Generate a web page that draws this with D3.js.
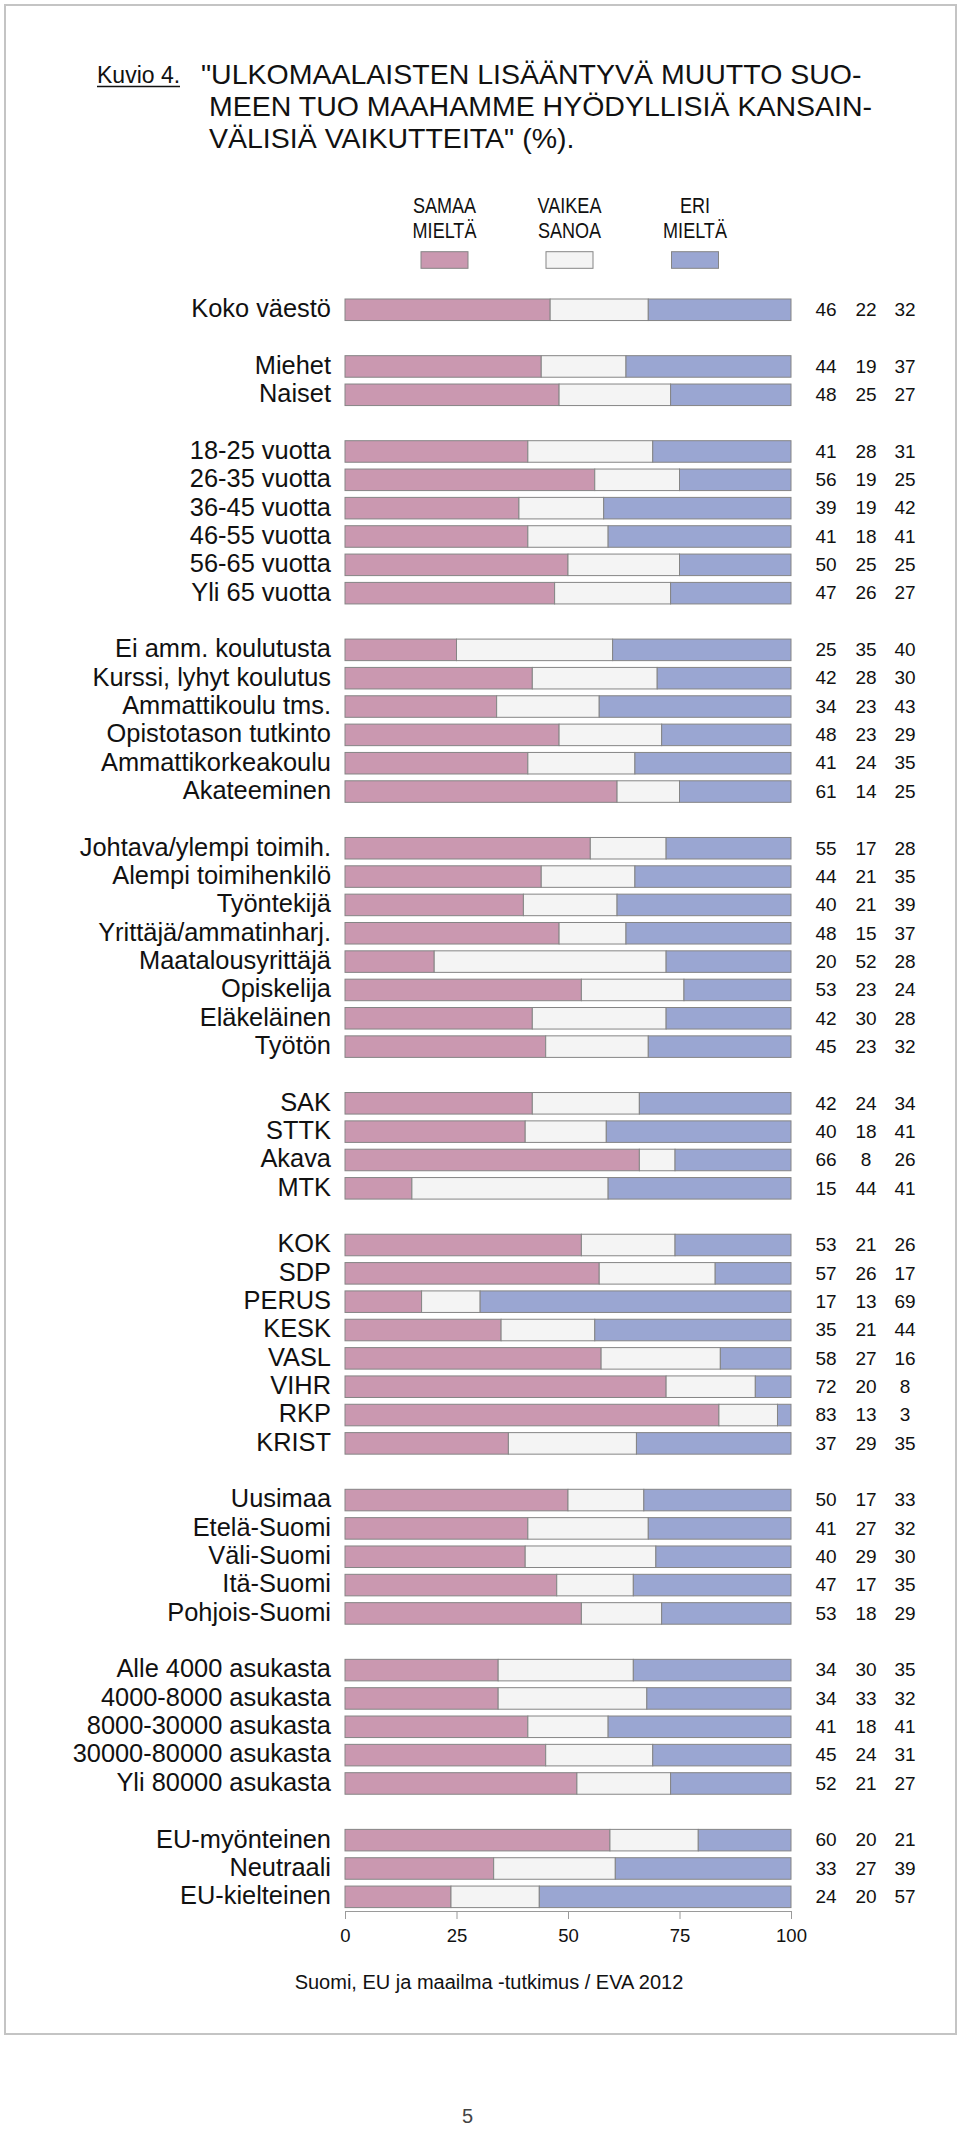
<!DOCTYPE html>
<html><head><meta charset="utf-8">
<script src="https://cdn.jsdelivr.net/npm/d3@7"></script>
<style>
body{margin:0;background:#fff;}
svg{display:block;font-family:"Liberation Sans",Arial,Helvetica,sans-serif;}
</style></head><body>
<svg id="chart" width="960" height="2129"></svg>
<script>
const categories = [
  "Koko väestö",
  "Miehet","Naiset",
  "18-25 vuotta","26-35 vuotta","36-45 vuotta","46-55 vuotta","56-65 vuotta","Yli 65 vuotta",
  "Ei amm. koulutusta","Kurssi, lyhyt koulutus","Ammattikoulu tms.","Opistotason tutkinto","Ammattikorkeakoulu","Akateeminen",
  "Johtava/ylempi toimih.","Alempi toimihenkilö","Työntekijä","Yrittäjä/ammatinharj.","Maatalousyrittäjä","Opiskelija","Eläkeläinen","Työtön",
  "SAK","STTK","Akava","MTK",
  "KOK","SDP","PERUS","KESK","VASL","VIHR","RKP","KRIST",
  "Uusimaa","Etelä-Suomi","Väli-Suomi","Itä-Suomi","Pohjois-Suomi",
  "Alle 4000 asukasta","4000-8000 asukasta","8000-30000 asukasta","30000-80000 asukasta","Yli 80000 asukasta",
  "EU-myönteinen","Neutraali","EU-kielteinen"
];
const samaa  = [46, 44,48, 41,56,39,41,50,47, 25,42,34,48,41,61, 55,44,40,48,20,53,42,45, 42,40,66,15, 53,57,17,35,58,72,83,37, 50,41,40,47,53, 34,34,41,45,52, 60,33,24];
const vaikea = [22, 19,25, 28,19,19,18,25,26, 35,28,23,23,24,14, 17,21,21,15,52,23,30,23, 24,18, 8,44, 21,26,13,21,27,20,13,29, 17,27,29,17,18, 30,33,18,24,21, 20,27,20];
const eri    = [32, 37,27, 31,25,42,41,25,27, 40,30,43,29,35,25, 28,35,39,37,28,24,28,32, 34,41,26,41, 26,17,69,44,16, 8, 3,35, 33,32,30,35,29, 35,32,41,31,27, 21,39,57];
const groupSizes = [1,2,6,6,8,4,8,5,5,3];
const seriesKeys = ["samaa","vaikea","eri"];
const legendLines = [["SAMAA","MIELTÄ"],["VAIKEA","SANOA"],["ERI","MIELTÄ"]];
const xTicks = [0,25,50,75,100];
const titleLines = ["\"ULKOMAALAISTEN LISÄÄNTYVÄ MUUTTO SUO-","MEEN TUO MAAHAMME HYÖDYLLISIÄ KANSAIN-","VÄLISIÄ VAIKUTTEITA\" (%)."];
const colors = ["#ca98b0","#f4f4f4","#9aa6d2"];

const svg = d3.select("#chart");
const ink = "#111";

// page frame
svg.append("rect").attr("x",5).attr("y",5).attr("width",951).attr("height",2029)
  .attr("fill","none").attr("stroke","#c4c4c4").attr("stroke-width",2);

// title
svg.append("text").attr("x",97).attr("y",83).attr("font-size",23).attr("fill",ink).text("Kuvio 4.");
svg.append("line").attr("x1",97).attr("x2",180).attr("y1",86.5).attr("y2",86.5).attr("stroke",ink).attr("stroke-width",1.3);
titleLines.forEach((t,i)=>{
  svg.append("text").attr("x", i===0?201:209).attr("y",84+i*32).attr("font-size",28.5).attr("fill",ink).text(t);
});

// scales
const slots = [];
let idx = 0;
groupSizes.forEach((n,g)=>{
  for(let k=0;k<n;k++){ slots.push(categories[idx++]); }
  if(g<groupSizes.length-1) slots.push("__gap"+g);
});
const x = d3.scaleLinear().domain([0,100]).range([345,791]);
const y = d3.scaleBand().domain(slots).range([295.6,1911]).paddingInner(0.24).paddingOuter(0.12);

const rows = categories.map((c,i)=>{
  const t = samaa[i]+vaikea[i]+eri[i];
  return {cat:c, samaa:samaa[i]*100/t, vaikea:vaikea[i]*100/t, eri:eri[i]*100/t, raw:[samaa[i],vaikea[i],eri[i]]};
});
const stacked = d3.stack().keys(seriesKeys)(rows);

// legend
const legX = [444.5, 569.5, 695];
legendLines.forEach((lines,i)=>{
  lines.forEach((ln,j)=>{
    svg.append("text").attr("transform",`translate(${legX[i]},${213+j*24.5}) scale(0.84,1)`)
      .attr("text-anchor","middle").attr("font-size",21.5).attr("fill",ink).text(ln);
  });
  svg.append("rect").attr("x",legX[i]-23.5).attr("y",251.7).attr("width",47).attr("height",16.6)
    .attr("fill",colors[i]).attr("stroke","#858585").attr("stroke-width",1);
});

// bars
svg.append("g").selectAll("g").data(stacked).join("g")
  .attr("fill",(d,i)=>colors[i])
  .selectAll("rect").data(d=>d).join("rect")
  .attr("x",d=>x(d[0])).attr("width",d=>x(d[1])-x(d[0]))
  .attr("y",d=>y(d.data.cat)).attr("height",y.bandwidth())
  .attr("stroke","#858585").attr("stroke-width",1);

// category labels
svg.append("g").selectAll("text").data(rows).join("text")
  .attr("x",331).attr("y",d=>y(d.cat)+y.bandwidth()/2).attr("dy","0.29em")
  .attr("text-anchor","end").attr("font-size",25.4).attr("fill",ink).text(d=>d.cat);

// value columns
const colX = [826,866,905];
rows.forEach(r=>{
  r.raw.forEach((v,k)=>{
    svg.append("text").attr("x",colX[k]).attr("y",y(r.cat)+y.bandwidth()/2).attr("dy","0.33em")
      .attr("text-anchor","middle").attr("font-size",19).attr("fill",ink).text(v);
  });
});

// axis
const ax = svg.append("g").attr("transform","translate(0,1911)")
  .call(d3.axisBottom(x).tickValues(xTicks).tickSize(8).tickPadding(10));
ax.selectAll("path,line").attr("stroke","#9a9a9a");
ax.selectAll("text").attr("font-size",18.5).attr("fill",ink).attr("font-family","Liberation Sans, Arial, sans-serif");

// source
svg.append("text").attr("x",489).attr("y",1989).attr("text-anchor","middle").attr("font-size",20)
  .attr("fill",ink).text("Suomi, EU ja maailma -tutkimus / EVA 2012");

// page number
svg.append("text").attr("x",467.5).attr("y",2123).attr("text-anchor","middle").attr("font-size",20)
  .attr("fill","#444").text("5");
</script>
</body></html>
